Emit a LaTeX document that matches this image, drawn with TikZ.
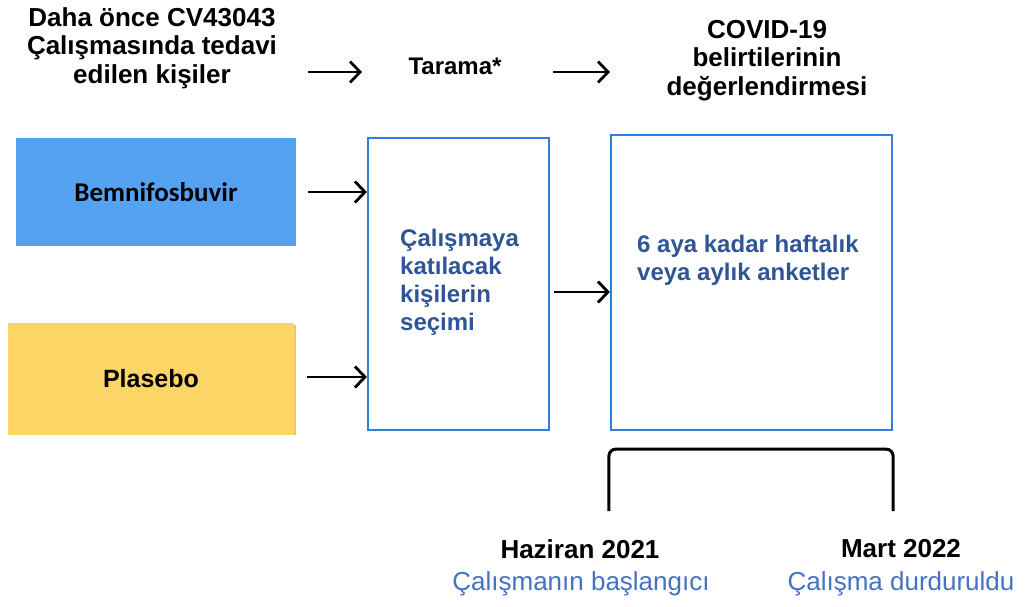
\documentclass[tikz,border=0pt]{standalone}
\usepackage{fontspec}
\setmainfont{Liberation Sans}
\newfontfamily\carl{Carlito}
\usetikzlibrary{arrows.meta,calc}
\definecolor{fillblue}{HTML}{56A2F2}
\definecolor{fillyellow}{HTML}{FDD567}
\definecolor{edgeyellow}{HTML}{F8C55A}
\definecolor{edgeblue}{HTML}{2E7FE0}
\definecolor{textblue}{HTML}{2F5597}
\definecolor{lightblue}{HTML}{4472C4}
\tikzset{
  arr/.style={line width=2.8pt,-{Straight Barb[length=10pt,width=21pt,line width=2.8pt]}},
  outbox/.style={draw=edgeblue,line width=2.2pt,inner sep=0pt},
  headtxt/.style={font=\fontsize{26}{28.5}\selectfont\bfseries,align=center,inner sep=0pt},
  boxtxt/.style={font=\fontsize{24}{28}\selectfont\bfseries,text=textblue,align=left,inner sep=0pt},
  datetxt/.style={font=\fontsize{26}{30}\selectfont\bfseries,inner sep=0pt,anchor=base},
  subtxt/.style={font=\fontsize{26}{30}\selectfont,text=lightblue,inner sep=0pt,anchor=base},
}
\begin{document}
\begin{tikzpicture}[x=1pt,y=-1pt]
\useasboundingbox[fill=white] (0,0) rectangle (1026,606);
% top texts
\node[headtxt,anchor=base] (prev) at (152,83) {Daha önce CV43043\\Çalışmasında tedavi\\edilen kişiler};
\node[font=\fontsize{24}{28}\selectfont\bfseries,inner sep=0pt,anchor=base] (tarama) at (455,74) {Tarama*};
\node[headtxt,anchor=base] (covid) at (767,95) {COVID-19\\belirtilerinin\\değerlendirmesi};
\coordinate (t1a) at (308,72);
\coordinate (t1b) at (362,72);
\coordinate (t2a) at (553,72);
\coordinate (t2b) at (610,72);
\draw[arr] (t1a) -- (t1b);
\draw[arr] (t2a) -- (t2b);
% arm boxes
\node[fill=fillblue,minimum width=280pt,minimum height=108pt,inner sep=0pt,
      font=\carl\fontsize{27}{30}\selectfont\bfseries] (bem) at (156,192) {Bemnifosbuvir};
\fill[edgeyellow] (10,325) rectangle (296,435);
\node[fill=fillyellow,minimum width=286pt,minimum height=112pt,inner sep=0pt,
      font=\fontsize{25}{30}\selectfont\bfseries] (pla) at (151,379) {Plasebo};
% process boxes
\node[outbox,minimum width=181pt,minimum height=292pt] (sel) at (458.5,284) {};
\node[outbox,minimum width=281pt,minimum height=295pt] (survey) at (751.5,282.5) {};
\node[boxtxt,anchor=base west] (seltxt) at (400,330) {Çalışmaya\\katılacak\\kişilerin\\seçimi};
\node[boxtxt,anchor=base west] (survtxt) at (637,280) {6 aya kadar haftalık\\veya aylık anketler};
% arrows into / between boxes
\draw[arr] ($(bem.east)+(12,0)$) -- (bem.east -| sel.west);
\draw[arr] ($(pla.east)+(13,-2)$) -- ($(pla.east -| sel.west)+(0,-2)$);
\draw[arr] ($(sel.east)+(4,8)$) -- ($(sel.east -| survey.west)+(0,8)$);
% bracket
\coordinate (bl) at ($(survey.south west)+(-1,80)$);
\coordinate (br) at ($(survey.south east)+(0,80)$);
\draw[line width=3pt,rounded corners=7pt] (bl) -- ($(survey.south west)+(-1,18)$) -- ($(survey.south east)+(0,18)$) -- (br);
% dates
\node[datetxt] (start) at (580,558) {Haziran 2021};
\node[subtxt] (startsub) at (581,590) {Çalışmanın başlangıcı};
\node[datetxt] (stop) at (901,557) {Mart 2022};
\node[subtxt] (stopsub) at (901,590) {Çalışma durduruldu};
\end{tikzpicture}
\end{document}
